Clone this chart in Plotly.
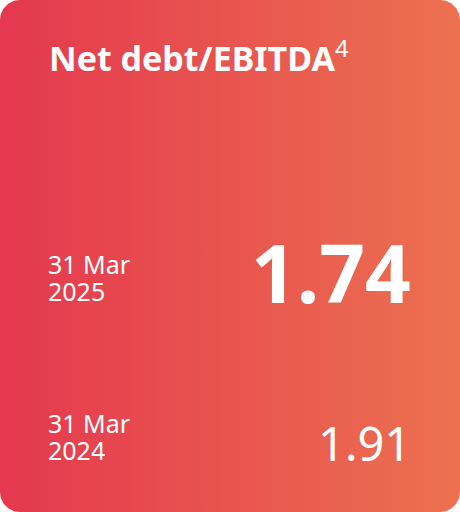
import numpy as np
import plotly.graph_objects as go

# データ
title = "Net debt/EBITDA"
footnote = "4"
days = ["31 Mar", "31 Mar"]
years = ["2025", "2024"]
values = [1.74, 1.91]

W, H, R = 460, 512, 20

# 角丸の四角形 (カードの背景)
def rounded_rect(w, h, r, n=20):
    xs, ys = [], []
    corners = [(w - r, h - r, 0), (r, h - r, 90), (r, r, 180), (w - r, r, 270)]
    for cx, cy, a0 in corners:
        t = np.radians(np.linspace(a0, a0 + 90, n))
        xs += list(cx + r * np.cos(t))
        ys += list(cy + r * np.sin(t))
    return xs + [xs[0]], ys + [ys[0]]

bx, by = rounded_rect(W, H, R)

fig = go.Figure(go.Scatter(
    x=bx, y=by,
    mode="lines",
    line=dict(width=0),
    fill="toself",
    fillgradient=dict(type="horizontal",
                      colorscale=[[0, "#E4384E"], [1, "#EC7150"]]),
    hoverinfo="skip",
    showlegend=False
))

font = "Noto Sans"

# タイトル
fig.add_annotation(x=47, y=H - 56, text=f"<b>{title}</b><sup>{footnote}</sup>",
                   xanchor="left", yanchor="middle", showarrow=False,
                   font=dict(family=font, size=34, color="white"))

# 日付と値 (上: 2025, 下: 2024)
day_y = [H - 264, H - 423]
for i in range(len(values)):
    fig.add_annotation(x=46, y=day_y[i], text=days[i], xanchor="left", yanchor="middle",
                       height=26, showarrow=False,
                       font=dict(family=font, size=25, color="white"))
    fig.add_annotation(x=46, y=day_y[i] - 27, text=years[i], xanchor="left", yanchor="middle",
                       height=26, showarrow=False,
                       font=dict(family=font, size=25, color="white"))
    if i == 0:
        fig.add_annotation(x=413, y=day_y[i] - 7, text=f"<b>{values[i]:.2f}</b>",
                           xanchor="right", yanchor="middle", showarrow=False,
                           font=dict(family=font, size=80, color="white"))
    else:
        fig.add_annotation(x=413, y=day_y[i] - 20, text=f"{values[i]:.2f}",
                           xanchor="right", yanchor="middle", showarrow=False,
                           font=dict(family=font, size=47, color="white"))

fig.update_layout(
    width=W, height=H,
    margin=dict(l=0, r=0, t=0, b=0),
    paper_bgcolor="white",
    plot_bgcolor="white",
    xaxis=dict(range=[0, W], visible=False, fixedrange=True),
    yaxis=dict(range=[0, H], visible=False, fixedrange=True),
)

fig.write_html("out.html", config={"displayModeBar": False},
               post_script="document.body.style.margin='0';")
